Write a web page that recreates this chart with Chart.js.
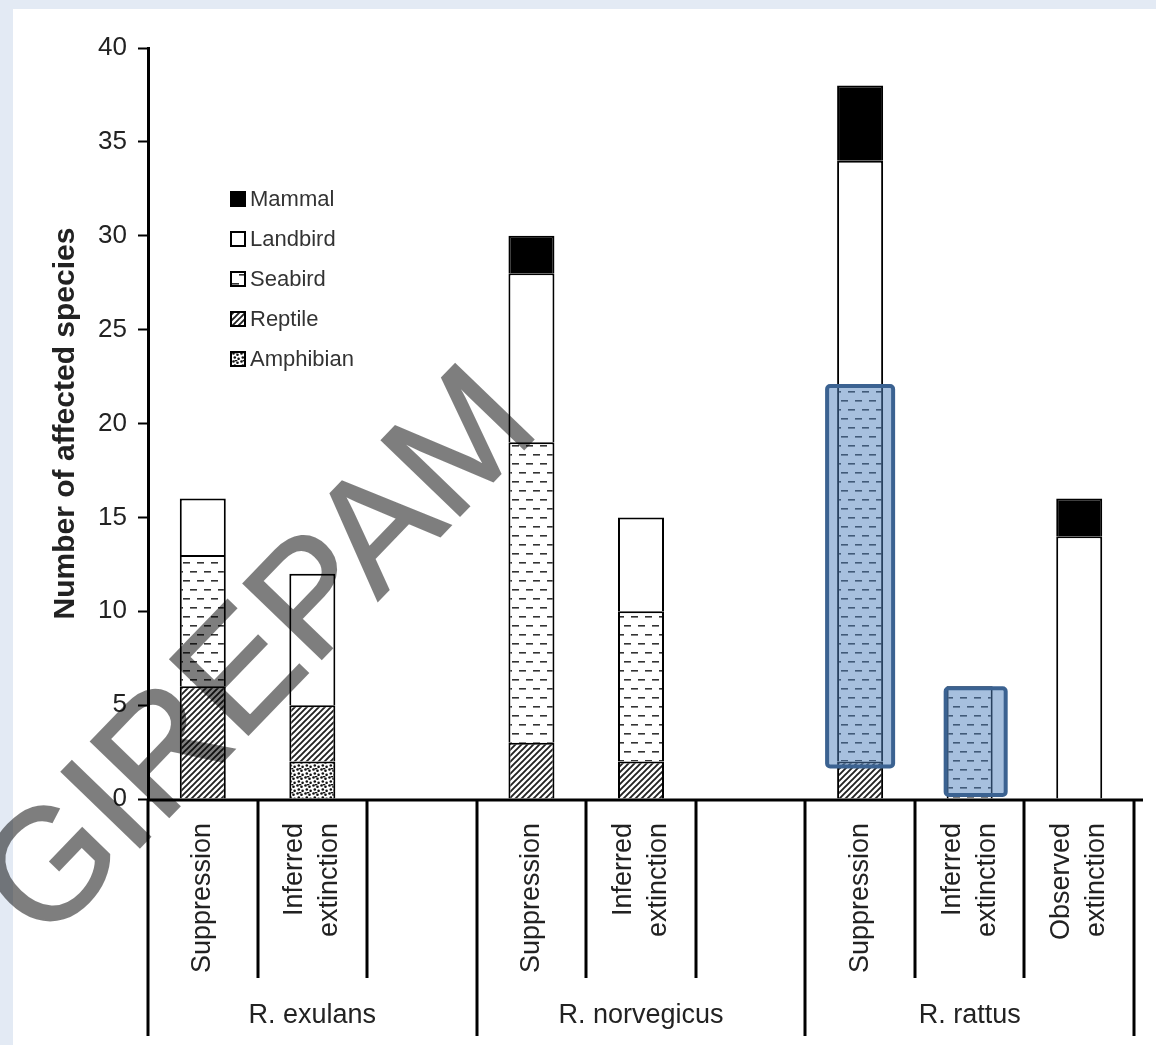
<!DOCTYPE html>
<html>
<head>
<meta charset="utf-8">
<script src="https://cdn.jsdelivr.net/npm/chart.js@4.4.1/dist/chart.umd.min.js"></script>
<style>
  html, body { margin: 0; padding: 0; background: #e3eaf4; }
  #wrap { width: 1156px; height: 1045px; }
</style>
</head>
<body>
<div id="wrap"><canvas id="chart" width="1156" height="1045"></canvas></div>
<script>
// categories (9 slots, 3 per rat species; some slots are empty)
const categories = [
  ['Suppression'], ['Inferred', 'extinction'], [''],
  ['Suppression'], ['Inferred', 'extinction'], [''],
  ['Suppression'], ['Inferred', 'extinction'], ['Observed', 'extinction']
];
const groups = ['R. exulans', 'R. norvegicus', 'R. rattus'];

// stacked values, bottom to top
const amphibian = [null, 2, null, null, null, null, null, null, null];
const reptile   = [6, 3, null, 3, 2, null, 2, null, null];
const seabird   = [7, null, null, 16, 8, null, 20, 6, null];
const landbird  = [3, 7, null, 9, 5, null, 12, null, 14];
const mammal    = [null, null, null, 2, null, null, 4, null, 2];

const yMin = 0, yMax = 40, yStep = 5;

// highlighted segments (category index, value range)
const highlights = [
  { index: 6, from: 2, to: 22 },
  { index: 7, from: 0, to: 6 }
];

const FONT = "'Liberation Sans', Arial, sans-serif";

function makePattern(w, h, draw) {
  const c = document.createElement('canvas');
  c.width = w; c.height = h;
  const g = c.getContext('2d');
  g.fillStyle = '#fff';
  g.fillRect(0, 0, w, h);
  draw(g);
  return document.getElementById('chart').getContext('2d').createPattern(c, 'repeat');
}

// seabird: staggered short dashes
const seabirdFill = makePattern(14, 18, g => {
  g.fillStyle = '#333';
  g.fillRect(1, 4, 7, 1.6);
  g.fillRect(8, 13, 7, 1.6);
  g.fillRect(-6, 13, 7, 1.6);
});
// reptile: dense diagonal hatch
const reptileFill = makePattern(6, 6, g => {
  g.strokeStyle = '#222';
  g.lineWidth = 1.9;
  g.beginPath();
  g.moveTo(-1, 7); g.lineTo(7, -1);
  g.moveTo(-4, 4); g.lineTo(4, -4);
  g.moveTo(2, 10); g.lineTo(10, 2);
  g.stroke();
});
// amphibian: stipple
const amphibianFill = makePattern(8, 8, g => {
  g.fillStyle = '#111';
  [[1.5, 1.5], [5.5, 2.8], [2.8, 5.5], [6.6, 6.8], [4, 0.2]].forEach(([x, y]) => {
    g.beginPath(); g.arc(x, y, 1.3, 0, Math.PI * 2); g.fill();
  });
});

const seriesStyle = {
  Amphibian: amphibianFill,
  Reptile: reptileFill,
  Seabird: seabirdFill,
  Landbird: '#ffffff',
  Mammal: '#000000'
};

const datasets = [
  { label: 'Amphibian', data: amphibian },
  { label: 'Reptile', data: reptile },
  { label: 'Seabird', data: seabird },
  { label: 'Landbird', data: landbird },
  { label: 'Mammal', data: mammal }
].map(d => Object.assign(d, {
  backgroundColor: seriesStyle[d.label],
  borderColor: '#000',
  borderWidth: 2,
  barPercentage: 0.42,
  categoryPercentage: 1.0
}));

const decorations = {
  id: 'decorations',
  beforeDraw(chart) {
    const c = chart.ctx;
    c.save();
    c.fillStyle = '#e3eaf4';
    c.fillRect(0, 0, chart.width, chart.height);
    c.fillStyle = '#ffffff';
    c.fillRect(13, 9, chart.width - 13, chart.height - 9);
    c.restore();
  },
  afterDatasetsDraw(chart) {
    const c = chart.ctx;
    const x = chart.scales.x, y = chart.scales.y;
    const sp = x.getPixelForValue(1) - x.getPixelForValue(0);
    const bw = sp * 0.42;
    const pads = [{ l: 10, r: 10, t: 0, b: 5 }, { l: 1, r: 13, t: 2, b: -4 }];
    c.save();
    highlights.forEach((h, i) => {
      const p = pads[i];
      const cx = x.getPixelForValue(h.index);
      const left = cx - bw / 2 - p.l, right = cx + bw / 2 + p.r;
      const top = y.getPixelForValue(h.to) + p.t, bottom = y.getPixelForValue(h.from) + p.b;
      c.beginPath();
      c.roundRect(left, top, right - left, bottom - top, 3);
      c.fillStyle = 'rgba(79,129,189,0.5)';
      c.fill();
      c.lineWidth = 4;
      c.strokeStyle = '#3b6291';
      c.stroke();
    });
    c.restore();
  },
  afterDraw(chart) {
    const c = chart.ctx;
    const x = chart.scales.x, y = chart.scales.y;
    const sp = x.getPixelForValue(1) - x.getPixelForValue(0);
    const start = x.getPixelForValue(0) - sp / 2;
    const y0 = y.getPixelForValue(0) + 1;
    c.save();
    // category axis frame
    c.strokeStyle = '#000';
    c.lineWidth = 3;
    c.beginPath();
    c.moveTo(start, y0); c.lineTo(start + sp * categories.length + 9, y0);
    for (let k = 0; k <= categories.length; k++) {
      const bx = Math.round(start + k * sp);
      c.moveTo(bx, y0);
      c.lineTo(bx, k % 3 === 0 ? y0 + 236 : y0 + 178);
    }
    c.stroke();

    // category labels (rotated)
    c.fillStyle = '#222';
    c.font = '27px ' + FONT;
    c.textAlign = 'right';
    c.textBaseline = 'middle';
    categories.forEach((lines, i) => {
      const cx = x.getPixelForValue(i);
      c.save();
      c.translate(cx, y0 + 23);
      c.rotate(-Math.PI / 2);
      lines.forEach((t, j) => {
        c.fillText(t, 0, (j - (lines.length - 1) / 2) * 35);
      });
      c.restore();
    });

    // group labels
    c.textAlign = 'center';
    groups.forEach((g, i) => {
      const gx = start + (i * 3 + 1.5) * sp;
      c.fillText(g, gx, y0 + 216);
    });

    // legend, top entry first
    const order = ['Mammal', 'Landbird', 'Seabird', 'Reptile', 'Amphibian'];
    c.font = '22px ' + FONT;
    c.textAlign = 'left';
    order.forEach((name, i) => {
      const ly = 199 + i * 40;
      c.fillStyle = seriesStyle[name];
      c.fillRect(231, ly - 7, 14, 14);
      c.lineWidth = 2;
      c.strokeStyle = '#000';
      c.strokeRect(231, ly - 7, 14, 14);
      c.fillStyle = '#333';
      c.fillText(name, 250, ly + 1);
    });

    // watermark
    const off = document.createElement('canvas');
    off.width = chart.width; off.height = chart.height;
    const o = off.getContext('2d');
    o.translate(262, 658);
    o.rotate(-46 * Math.PI / 180);
    o.font = '158px ' + FONT;
    o.textAlign = 'center';
    o.textBaseline = 'middle';
    o.fillStyle = '#000';
    o.strokeStyle = '#000';
    o.lineWidth = 2;
    o.fillText('GIREPAM', 0, 0);
    o.strokeText('GIREPAM', 0, 0);
    c.globalAlpha = 0.5;
    c.drawImage(off, 0, 0);
    c.restore();
  }
};

new Chart(document.getElementById('chart'), {
  type: 'bar',
  data: { labels: categories, datasets },
  plugins: [decorations],
  options: {
    responsive: false,
    animation: false,
    layout: { padding: { left: 0, top: 48, right: 22, bottom: 246 } },
    plugins: {
      legend: { display: false },
      tooltip: { enabled: false }
    },
    scales: {
      x: {
        stacked: true,
        display: false
      },
      y: {
        stacked: true,
        min: yMin,
        max: yMax,
        afterFit(scale) { scale.width = 148; },
        ticks: {
          stepSize: yStep,
          color: '#222',
          padding: 11,
          font: { family: FONT, size: 26 }
        },
        grid: {
          drawOnChartArea: false,
          drawTicks: true,
          tickLength: 10,
          tickWidth: 2,
          color: '#000'
        },
        border: { color: '#000', width: 3 },
        title: {
          display: true,
          text: 'Number of affected species',
          color: '#222',
          padding: { top: 48 },
          font: { family: FONT, size: 30, weight: 'bold' }
        }
      }
    }
  }
});
</script>
</body>
</html>
